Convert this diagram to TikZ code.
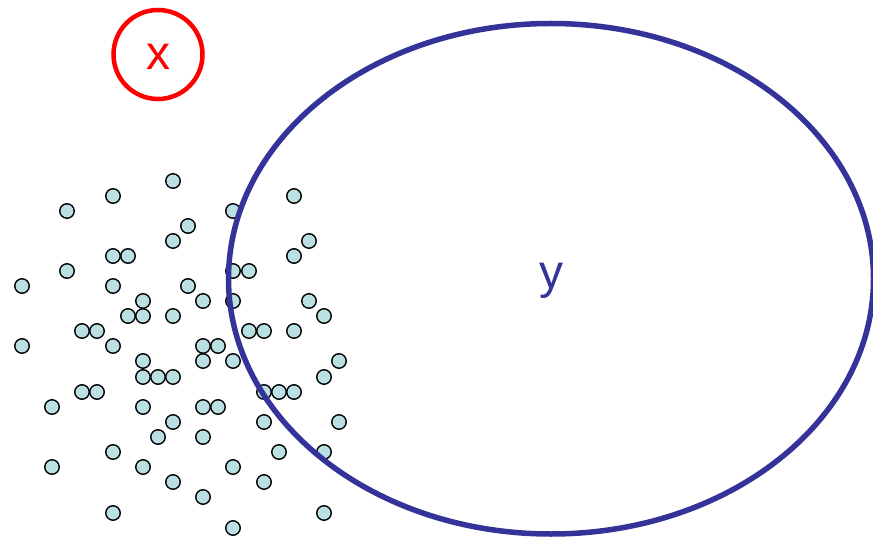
\documentclass[tikz,border=0pt]{standalone}
\usepackage{fontspec}
\setmainfont{Liberation Sans}
\usetikzlibrary{shapes.geometric}
\definecolor{setRed}{RGB}{255,0,0}
\definecolor{setBlue}{RGB}{51,51,153}
\definecolor{dotTeal}{RGB}{187,224,227}
\tikzset{
  ptDot/.style  = {circle, draw=black, fill=dotTeal, line width=1.4pt,
                   minimum size=14.5pt, inner sep=0pt},
  setX/.style   = {circle, draw=setRed, line width=4.5pt, text=setRed,
                   minimum size=89pt, inner sep=0pt, text height=30.4pt,
                   font=\fontsize{48}{50}\selectfont},
  setY/.style   = {ellipse, draw=setBlue, line width=5.5pt, text=setBlue,
                   minimum width=645pt, minimum height=510.5pt, inner sep=0pt,
                   text height=29pt, font=\fontsize{48}{50}\selectfont},
}
\begin{document}
\begin{tikzpicture}[x=1pt,y=-1pt]
  \useasboundingbox (0,0) rectangle (873,540);
  % point cloud
  \foreach \px/\py [count=\k] in {
      173/181, 113/196, 294/196, 67/211, 233/211, 188/226, 173/241, 309/241,
      113/256, 128/256, 294/256, 67/271, 233/271, 249/271, 22/286, 113/286,
      188/286, 143/301, 203/301, 233/301, 309/301, 128/316, 143/316, 173/316,
      324/316, 82/331, 97/331, 249/331, 264/331, 294/331, 22/346, 113/346,
      203/346, 218/346, 143/361, 203/361, 233/361, 339/361, 143/377, 158/377,
      173/377, 324/377, 82/392, 97/392, 264/392, 279/392, 294/392, 52/407,
      143/407, 203/407, 218/407, 173/422, 264/422, 339/422, 158/437, 203/437,
      113/452, 279/452, 324/452, 52/467, 143/467, 233/467, 173/482, 264/482,
      203/497, 113/513, 324/513, 233/528}
    \node[ptDot] (pt\k) at (\px,\py) {};
  % the two sets
  \node[setX] (xset) at (158,54.5) {x};
  \node[setY] (yset) at (551,278.75) {y};
\end{tikzpicture}
\end{document}
